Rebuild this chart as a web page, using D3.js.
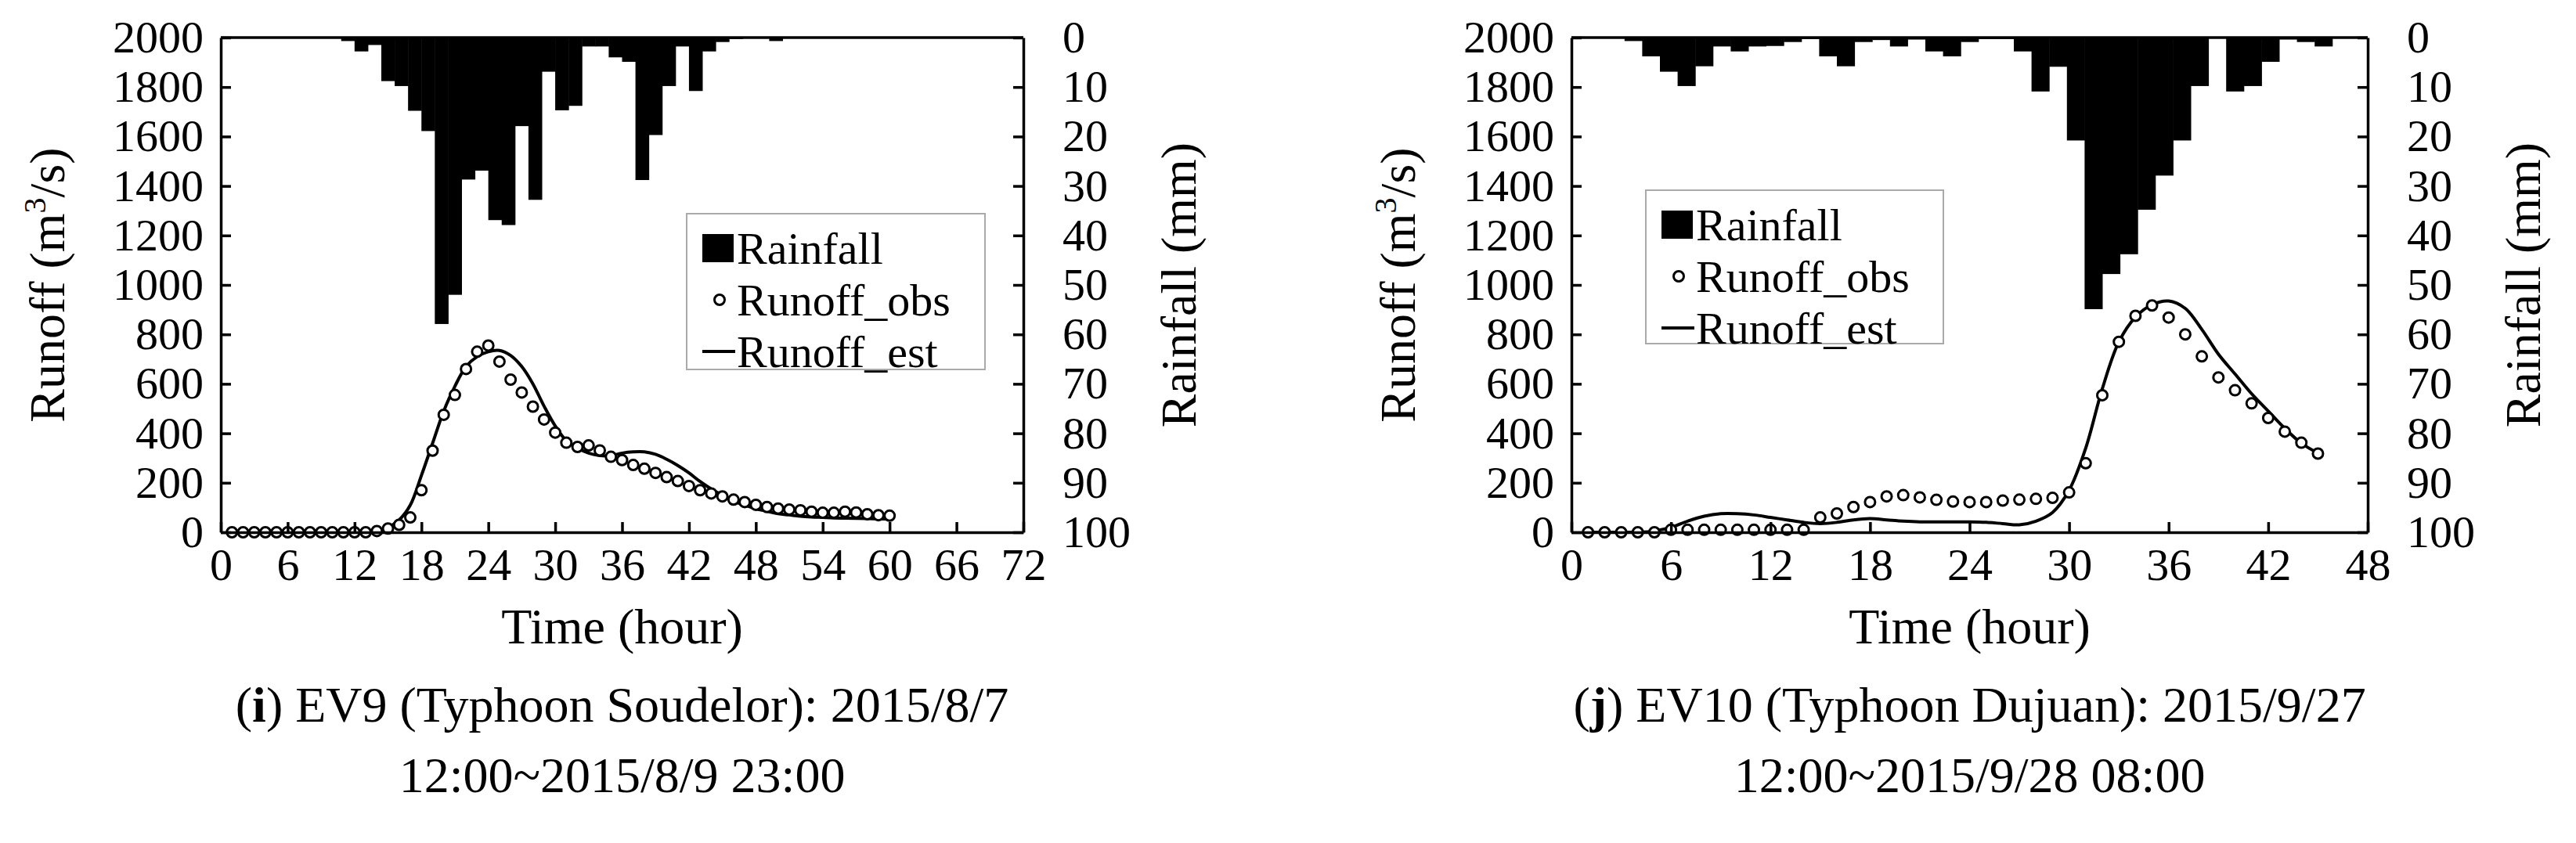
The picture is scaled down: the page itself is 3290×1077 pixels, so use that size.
<!DOCTYPE html>
<html>
<head>
<meta charset="utf-8">
<script src="https://cdn.jsdelivr.net/npm/d3@7"></script>
<style>
  body { margin: 0; background: #fff; }
  svg { font-family: "Liberation Serif", "DejaVu Serif", serif; }
</style>
</head>
<body>
<div id="chart-area"></div>
<script>
// EV9 dados (hora 1..60)
const ev9Rain = [0,0,0,0,0,0,0,0,0,0.7,2.8,1.5,8.8,9.8,14.8,18.9,57.9,52,28.7,26.9,
  36.9,37.9,17.9,32.8,6.9,14.7,13.8,1.8,1.8,4,4.9,28.8,19.7,9.8,1.8,10.8,2.8,0.9,0.3,0,
  0,0.7,0,0,0,0,0,0,0,0,0,0,0,0,0,0,0,0,0,0];
const ev9Obs = [0,0,0,0,0,0,0,0,0,0,0,0,0,5,15,30,60,170,330,475,
  555,660,730,755,690,617,565,508,456,403,362,345,351,331,305,292,272,257,240,223,
  207,187,170,157,145,132,122,111,102,96,92,89,83,79,79,83,80,73,69,67];
const ev9Est = [0,0,0,0,0,0,0,0,0,0,0,0,0,5,20,50,110,230,360,490,
  590,670,710,730,735,715,670,600,510,430,370,340,320,310,310,320,325,325,315,295,
  270,240,205,175,150,125,110,95,85,75,70,65,62,60,58,57,56,55,54,53];

// EV10 dados (hora 1..45)
const ev10Rain = [0,0,0,0.7,3.8,6.9,9.8,5.8,1.8,2.8,1.8,1.7,0.9,0.3,3.8,5.8,0.9,0.5,1.8,0.4,
  2.8,3.8,0.9,0.3,0.3,2.8,10.9,5.9,20.8,54.9,47.8,43.8,34.8,27.9,20.8,9.8,0,10.9,9.8,4.9,
  0.4,0.9,1.8,0,0];
const ev10Obs = [0,0,0,0,0,10,10,10,10,10,10,10,10,10,60,76,102,122,145,150,
  141,131,124,122,122,128,132,135,139,161,279,554,770,875,917,868,800,711,626,574,
  521,462,407,362,318];
const ev10Est = [0,0,0,0,5,20,45,65,75,75,70,60,50,40,35,40,50,55,50,45,
  42,42,42,42,40,35,30,45,80,170,340,580,770,870,920,935,905,820,720,640,
  560,490,420,360,320];

const runoffTicks = d3.range(0, 2001, 200);
const rainTicks = d3.range(0, 101, 10);
const ev9TimeTicks = d3.range(0, 73, 6);
const ev10TimeTicks = d3.range(0, 49, 6);

const svg = d3.select('#chart-area').append('svg')
  .attr('width', 3290).attr('height', 1077);

//função que desenha um painel
function drawPanel(p) {
  const g = svg.append('g');
  const x = d3.scaleLinear().domain([0, p.xMax]).range([p.left, p.right]);
  const y = d3.scaleLinear().domain([0, 2000]).range([p.bottom, p.top]);
  const yRain = d3.scaleLinear().domain([0, 100]).range([p.top, p.bottom]);
  const band = d3.scaleBand().domain(d3.range(1, p.rain.length + 1))
    .range([p.left, p.right]).padding(0);

  //barras de chuva
  g.selectAll('.bar').data(p.rain).enter().append('rect')
    .attr('x', (d, i) => band(i + 1))
    .attr('y', p.top)
    .attr('width', band.bandwidth() + 0.5)
    .attr('height', d => yRain(d) - p.top)
    .attr('fill', '#000');

  //linha estimada
  const line = d3.line().x((d, i) => x(i + 1)).y(d => y(d)).curve(d3.curveCatmullRom);
  g.append('path').datum(p.est)
    .attr('d', line).attr('fill', 'none').attr('stroke', '#000').attr('stroke-width', 4);

  //círculos observados
  g.selectAll('.obs').data(p.obs).enter().append('circle')
    .attr('cx', (d, i) => x(i + 1)).attr('cy', d => y(d)).attr('r', 6.5)
    .attr('fill', '#fff').attr('stroke', '#000').attr('stroke-width', 3);

  //eixos
  const fs = '58px';
  const fmt = d3.format('d');
  const ax = g.append('g').attr('transform', `translate(0,${p.bottom})`)
    .call(d3.axisBottom(x).tickValues(p.timeTicks).tickFormat(fmt).tickSize(-13).tickPadding(20).tickSizeOuter(0));
  const ay = g.append('g').attr('transform', `translate(${p.left},0)`)
    .call(d3.axisLeft(y).tickValues(runoffTicks).tickFormat(fmt).tickSize(-13).tickPadding(22).tickSizeOuter(0));
  const ar = g.append('g').attr('transform', `translate(${p.right},0)`)
    .call(d3.axisRight(yRain).tickValues(rainTicks).tickFormat(fmt).tickSize(-13).tickPadding(50).tickSizeOuter(0));
  [ax, ay, ar].forEach(a => {
    a.selectAll('text').attr('font-size', fs).attr('fill', '#000')
      .attr('font-family', '"Liberation Serif", serif');
    a.selectAll('line, path').attr('stroke', '#000').attr('stroke-width', 3.5);
  });
  ar.selectAll('text').attr('text-anchor', 'start');
  g.append('line').attr('x1', p.left).attr('x2', p.right).attr('y1', p.top).attr('y2', p.top)
    .attr('stroke', '#000').attr('stroke-width', 3.5);

  //títulos dos eixos
  const ty = g.append('text').attr('font-size', '64px').attr('text-anchor', 'middle')
    .attr('transform', `translate(${p.left - 200},${(p.top + p.bottom) / 2}) rotate(-90)`);
  ty.append('tspan').text('Runoff (m');
  ty.append('tspan').text('3').attr('font-size', '40px').attr('dy', -24);
  ty.append('tspan').text('/s)').attr('dy', 24);
  g.append('text').attr('font-size', '64px').attr('text-anchor', 'middle')
    .attr('transform', `translate(${p.right + 220},${(p.top + p.bottom) / 2}) rotate(-90)`)
    .text('Rainfall (mm)');
  g.append('text').attr('font-size', '64px').attr('text-anchor', 'middle')
    .attr('x', (p.left + p.right) / 2).attr('y', 822).text('Time (hour)');

  //legenda
  const L = p.legend;
  g.append('rect').attr('x', L.x).attr('y', L.y).attr('width', L.w).attr('height', L.h)
    .attr('fill', '#fff').attr('stroke', '#aaa').attr('stroke-width', 2);
  const lx = L.x + 20, rowH = 66, top0 = L.y + 14;
  g.append('rect').attr('x', lx).attr('y', top0 + 12).attr('width', 40).attr('height', 36).attr('fill', '#000');
  g.append('circle').attr('cx', lx + 22).attr('cy', top0 + rowH + 30).attr('r', 6.5)
    .attr('fill', '#fff').attr('stroke', '#000').attr('stroke-width', 3);
  g.append('line').attr('x1', lx).attr('x2', lx + 42).attr('y1', top0 + 2 * rowH + 30)
    .attr('y2', top0 + 2 * rowH + 30).attr('stroke', '#000').attr('stroke-width', 4);
  ['Rainfall', 'Runoff_obs', 'Runoff_est'].forEach((t, i) => {
    g.append('text').attr('x', lx + 44).attr('y', top0 + i * rowH + 50)
      .attr('font-size', '58px').text(t);
  });

  //legenda inferior
  const cx = (p.left + p.right) / 2;
  const c1 = g.append('text').attr('font-size', '64px').attr('text-anchor', 'middle')
    .attr('x', cx).attr('y', 922);
  c1.append('tspan').text('(');
  c1.append('tspan').text(p.letter).attr('font-weight', 'bold');
  c1.append('tspan').text(p.cap1);
  g.append('text').attr('font-size', '64px').attr('text-anchor', 'middle')
    .attr('x', cx).attr('y', 1012).text(p.cap2);
}

drawPanel({
  left: 282, right: 1307, top: 48, bottom: 680, xMax: 72,
  rain: ev9Rain, obs: ev9Obs, est: ev9Est, timeTicks: ev9TimeTicks,
  legend: { x: 877, y: 273, w: 381, h: 199 },
  letter: 'i', cap1: ') EV9 (Typhoon Soudelor): 2015/8/7', cap2: '12:00~2015/8/9 23:00'
});
drawPanel({
  left: 2007, right: 3024, top: 48, bottom: 680, xMax: 48,
  rain: ev10Rain, obs: ev10Obs, est: ev10Est, timeTicks: ev10TimeTicks,
  legend: { x: 2102, y: 243, w: 380, h: 196 },
  letter: 'j', cap1: ') EV10 (Typhoon Dujuan): 2015/9/27', cap2: '12:00~2015/9/28 08:00'
});
</script>
</body>
</html>
